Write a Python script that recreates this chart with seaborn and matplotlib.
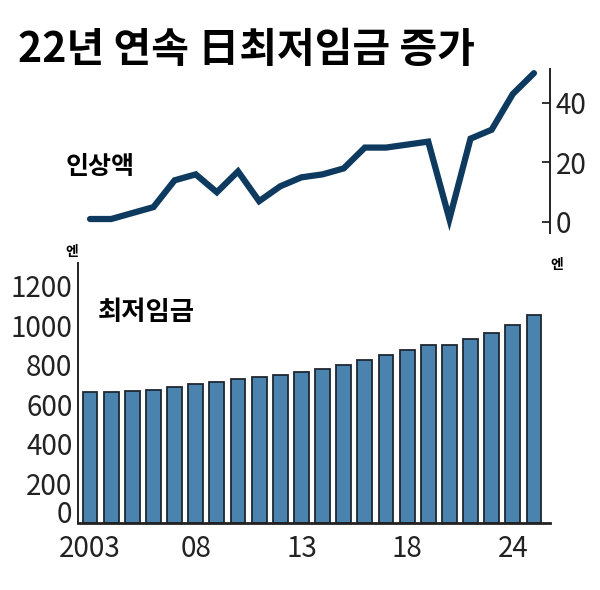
"""
Japan minimum wage: 22 consecutive yearly increases (line + bar chart).
"""

import matplotlib
matplotlib.use("Agg")
import matplotlib.pyplot as plt
import seaborn as sns
import pandas as pd

# ── Data ─────────────────────────────────────────────────────────────────────
YEARS = [2003, 2004, 2005, 2006, 2007, 2008, 2009, 2010, 2011, 2012, 2013,
         2014, 2015, 2016, 2017, 2018, 2019, 2020, 2021, 2022, 2023, 2024]
WAGE = [664, 665, 668, 673, 687, 703, 713, 730, 737, 749, 764,
        780, 798, 823, 848, 874, 901, 902, 930, 961, 1004, 1055]
RAISE = [1, 1, 3, 5, 14, 16, 10, 17, 7, 12, 15,
         16, 18, 25, 25, 26, 27, 1, 28, 31, 43, 50]
X_TICKS = [2003, 2008, 2013, 2018, 2023]
X_LABELS = ["2003", "08", "13", "18", "24"]
WAGE_TICKS = [0, 200, 400, 600, 800, 1000, 1200]
RAISE_TICKS = [0, 20, 40]

TITLE = "22년 연속 日최저임금 증가"

# ── Style ────────────────────────────────────────────────────────────────────
BAR = "#4a84ae"
EDGE = "#1e2630"
LINE = "#0d3a5e"
DARK = "#222222"
KR = ["Noto Sans CJK KR", "DejaVu Sans"]

sns.set_theme(style="white")
plt.rcParams.update({
    "font.family": ["Noto Sans CJK KR", "DejaVu Sans"],
    "axes.edgecolor": DARK,
    "xtick.color": DARK,
    "ytick.color": DARK,
    "text.color": DARK,
})

df = pd.DataFrame({"year": YEARS, "wage": WAGE, "raise": RAISE})

W, H = 600, 590
fig = plt.figure(figsize=(W / 100, H / 100), dpi=100)
fig.patch.set_facecolor("white")

x_lo, x_hi = YEARS[0] - 0.57, YEARS[-1] + 0.76

# ── Bar chart: minimum wage ──────────────────────────────────────────────────
ax = fig.add_axes([78 / W, 1 - 523 / H, (550 - 78) / W, (523 - 263) / H])
sns.barplot(data=df, x="year", y="wage", native_scale=True, ax=ax,
            color=BAR, edgecolor=EDGE, linewidth=1.3, width=0.7, saturation=1)
ax.set_xlim(x_lo, x_hi)
ax.set_ylim(0, 1316)
ax.set_yticks(WAGE_TICKS)
ax.set_xticks(X_TICKS)
ax.set_xticklabels(X_LABELS)
ax.set_xlabel("")
ax.set_ylabel("")
ax.tick_params(axis="y", direction="in", length=5, width=1.3, pad=4,
               labelsize=20)
ax.tick_params(axis="x", length=0, pad=8, labelsize=20)
# the "0" label sits on the baseline, clear of the axis line
ax.get_yticklabels()[0].set_va("baseline")
for s in ["top", "right"]:
    ax.spines[s].set_visible(False)
ax.spines["left"].set_linewidth(1.4)
ax.spines["bottom"].set_linewidth(2)
ax.grid(False)

# ── Line chart: yearly increase ──────────────────────────────────────────────
ax2 = fig.add_axes([78 / W, 1 - 233 / H, (550 - 78) / W, (233 - 69) / H])
sns.lineplot(data=df, x="year", y="raise", ax=ax2, color=LINE, linewidth=4.5,
             solid_joinstyle="miter", solid_capstyle="round")
ax2.set_xlim(x_lo, x_hi)
ax2.set_ylim(-3.7, 51.4)
ax2.set_yticks(RAISE_TICKS)
ax2.set_xticks([])
ax2.set_xlabel("")
ax2.set_ylabel("")
ax2.yaxis.tick_right()
ax2.tick_params(axis="y", direction="in", length=6, width=1.3, pad=4,
                labelsize=20)
for s in ["top", "left", "bottom"]:
    ax2.spines[s].set_visible(False)
ax2.spines["right"].set_linewidth(1.4)
ax2.patch.set_alpha(0)
ax2.grid(False)

# ── Texts ────────────────────────────────────────────────────────────────────
fig.text(18 / W, 1 - 50 / H, TITLE, family=KR, fontweight="black",
         fontsize=29.5, color="black", va="center", ha="left")
fig.text(66 / W, 1 - 167 / H, "인상액", family=KR, fontweight="bold",
         fontsize=18, color="black", va="center", ha="left")
fig.text(98 / W, 1 - 313 / H, "최저임금", family=KR, fontweight="bold",
         fontsize=19, color="black", va="center", ha="left")
fig.text(72 / W, 1 - 252 / H, "엔", family=KR, fontweight="bold",
         fontsize=10, color="black", va="center", ha="center")
fig.text(557 / W, 1 - 265 / H, "엔", family=KR, fontweight="bold",
         fontsize=10, color="black", va="center", ha="center")

fig.savefig("out.png", dpi=100, facecolor="white")
